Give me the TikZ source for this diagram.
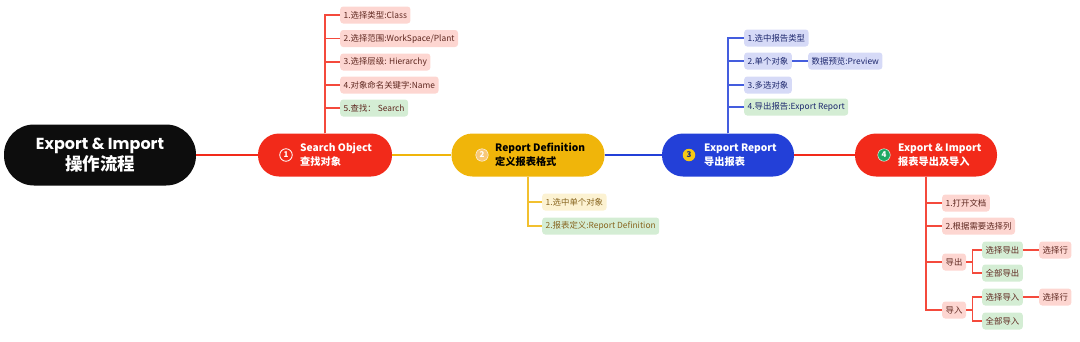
\documentclass[tikz,border=0pt]{standalone}
\usepackage{fontspec}
\setmainfont{Noto Sans CJK SC}
\newfontfamily\titlefont{Poppins}
\usetikzlibrary{
  positioning,
  calc,
}
\definecolor{rootbg}{RGB}{13,13,13}
\definecolor{redmain}{RGB}{242,42,26}
\definecolor{yellowmain}{RGB}{240,181,10}
\definecolor{bluemain}{RGB}{35,64,216}
\definecolor{redleaf}{RGB}{253,214,209}
\definecolor{redtext}{RGB}{95,40,32}
\definecolor{greenleaf}{RGB}{212,237,212}
\definecolor{yellowleaf}{RGB}{252,242,210}
\definecolor{yellowtext}{RGB}{135,100,30}
\definecolor{blueleaf}{RGB}{214,218,247}
\definecolor{bluetext}{RGB}{30,40,110}
\definecolor{greenbadge}{RGB}{30,168,100}
\definecolor{badgeorange}{RGB}{248,200,120}
\definecolor{badgeyellow}{RGB}{246,200,20}
\tikzset{
  rootbox/.style={
    rectangle, fill=rootbg, rounded corners=30pt,
    minimum width=192pt, minimum height=61pt, inner sep=0pt,
    text=white, align=center, font=\bfseries\fontsize{17.5}{21}\selectfont
  },
  topicbox/.style={
    rectangle, rounded corners=21pt,
    minimum width=#1, minimum height=43pt, inner sep=0pt
  },
  topictext/.style={
    anchor=west, align=left, inner sep=0pt,
    font=\bfseries\fontsize{10.2}{14}\selectfont
  },
  badge/.style={
    circle, inner sep=0pt, minimum size=12.5pt,
    font=\bfseries\fontsize{8}{8}\selectfont
  },
  leaf/.style={
    rectangle, rounded corners=3pt, anchor=west,
    minimum height=17pt, inner xsep=3.5pt, inner ysep=0pt,
    font=\fontsize{8.4}{9}\selectfont
  },
  redleafbox/.style={leaf, fill=redleaf, text=redtext},
  redgreenbox/.style={leaf, fill=greenleaf, text=redtext},
  yellowleafbox/.style={leaf, fill=yellowleaf, text=yellowtext},
  yellowgreenbox/.style={leaf, fill=greenleaf, text=yellowtext},
  blueleafbox/.style={leaf, fill=blueleaf, text=bluetext},
  bluegreenbox/.style={leaf, fill=greenleaf, text=bluetext},
  mainline/.style={line width=1.3pt},
  redbranch/.style={line width=1.2pt, redmain!85},
  yellowbranch/.style={line width=1.2pt, yellowmain!85},
  bluebranch/.style={line width=1.2pt, bluemain!85},
}

\begin{document}
\begin{tikzpicture}[x=1pt, y=-1pt, node distance=16pt]
  \useasboundingbox (0,0) rectangle (1080,341);

  % ── Root and topics ──
  \node[rootbox] (root) at (100,155)
    {{\titlefont\fontsize{16}{19}\selectfont Export \& Import}\\操作流程};

  \node[topicbox=134pt, fill=redmain] (search) at (325,155) {};
  \node[badge, draw=white, thick, text=white] (b1) at (286,155) {1};
  \node[topictext, text=white] (searchtxt) at (300,155) {Search Object\\查找对象};

  \node[topicbox=153pt, fill=yellowmain] (repdef) at (528,155) {};
  \node[badge, fill=badgeorange, draw=white, text=white] (b2) at (482,155) {2};
  \node[topictext, text=black] (repdeftxt) at (495,155) {Report Definition\\定义报表格式};

  \node[topicbox=132pt, fill=bluemain] (export) at (728,155) {};
  \node[badge, fill=badgeyellow, text=bluemain!60!black] (b3) at (689,155) {3};
  \node[topictext, text=white] (exporttxt) at (704,155) {Export Report\\导出报表};

  \node[topicbox=142pt, fill=redmain] (expimp) at (926,155) {};
  \node[badge, fill=greenbadge, draw=white, text=white] (b4) at (884,155) {4};
  \node[topictext, text=white] (expimptxt) at (898,155) {Export \& Import\\报表导出及导入};

  \draw[mainline, redmain] (root.east) -- (search.west);
  \draw[mainline, yellowmain] (search.east) -- (repdef.west);
  \draw[mainline, bluemain] (repdef.east) -- (export.west);
  \draw[mainline, redmain] (export.east) -- (expimp.west);

  % ── Search Object ──
  \node[redleafbox] (s1) at (340,15) {1.选择类型:Class};
  \node[redleafbox] (s2) at (340,38.5) {2.选择范围:WorkSpace/Plant};
  \node[redleafbox] (s3) at (340,62) {3.选择层级: Hierarchy};
  \node[redleafbox] (s4) at (340,85) {4.对象命名关键字:Name};
  \node[redgreenbox] (s5) at (340,108) {5.查找：\ Search};
  \foreach \n in {s1,s2,s3,s4,s5}
    \draw[redbranch] (search.north) |- (\n.west);

  % ── Report Definition ──
  \node[yellowleafbox] (r1) at (542,202) {1.选中单个对象};
  \node[yellowgreenbox] (r2) at (542,226) {2.报表定义:Report Definition};
  \foreach \n in {r1,r2}
    \draw[yellowbranch] (repdef.south) |- (\n.west);

  % ── Export Report ──
  \node[blueleafbox] (e1) at (744,38) {1.选中报告类型};
  \node[blueleafbox] (e2) at (744,61) {2.单个对象};
  \node[blueleafbox] (e3) at (744,85) {3.多选对象};
  \node[bluegreenbox] (e4) at (744,107) {4.导出报告:Export Report};
  \node[blueleafbox, right=of e2] (preview) {数据预览:Preview};
  \foreach \n in {e1,e2,e3,e4}
    \draw[bluebranch] (export.north) |- (\n.west);
  \draw[bluebranch] (e2.east) -- (preview.west);

  % ── Export & Import ──
  \node[redleafbox] (x1) at (942,203) {1.打开文档};
  \node[redleafbox] (x2) at (942,226) {2.根据需要选择列};
  \node[redleafbox] (dc) at (942,262) {导出};
  \node[redleafbox] (dr) at (942,310) {导入};
  \foreach \n in {x1,x2,dc,dr}
    \draw[redbranch] (expimp.south) |- (\n.west);

  \node[redgreenbox] (dcsel) at (982,250) {选择导出};
  \node[redgreenbox] (dcall) at (982,273) {全部导出};
  \node[redleafbox, right=of dcsel] (dcrow) {选择行};
  \node[redgreenbox] (drsel) at (982,297) {选择导入};
  \node[redgreenbox] (drall) at (982,321) {全部导入};
  \node[redleafbox, right=of drsel] (drrow) {选择行};
  \foreach \n in {dcsel,dcall}
    \draw[redbranch] (dc.east) -- ++(6,0) |- (\n.west);
  \foreach \n in {drsel,drall}
    \draw[redbranch] (dr.east) -- ++(6,0) |- (\n.west);
  \draw[redbranch] (dcsel.east) -- (dcrow.west);
  \draw[redbranch] (drsel.east) -- (drrow.west);

\end{tikzpicture}
\end{document}
